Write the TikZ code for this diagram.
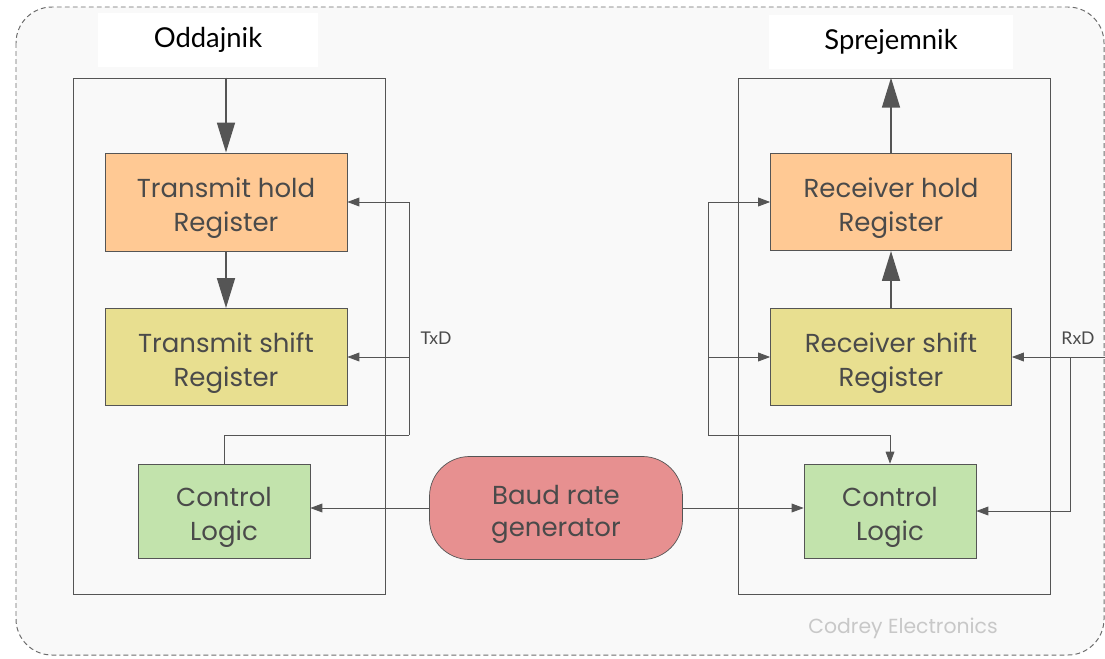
\documentclass[tikz,border=0pt]{standalone}
\usepackage{fontspec}
\setmainfont{Poppins}
\newfontfamily\titlefont{Lato}
\usetikzlibrary{arrows.meta}
\definecolor{bgc}{HTML}{F9F9F9}
\definecolor{linec}{HTML}{555555}
\definecolor{holdc}{HTML}{FFC994}
\definecolor{shiftc}{HTML}{E8DF90}
\definecolor{ctlc}{HTML}{C2E3AC}
\definecolor{baudc}{HTML}{E79090}
\definecolor{textc}{HTML}{4A4A4A}
\definecolor{brandc}{HTML}{C8C8C8}
\def\two#1#2{\raisebox{-1.6mm}[\height][\depth]{\shortstack{#1\\[2.5mm]#2}}}
\begin{document}
\begin{tikzpicture}[x=0.25mm,y=-0.25mm,
  block/.style={draw=linec,line width=0.5pt,text=textc,align=center,
    font=\fontsize{18.5}{24}\selectfont,inner sep=0pt},
  frame/.style={draw=linec,line width=0.6pt,inner sep=0pt},
  conn/.style={draw=linec,line width=0.6pt},
  thin arrow/.style={conn,-{Triangle[length=3mm,width=2.2mm]}},
  thick arrow/.style={draw=linec,line width=2pt,-{Triangle[length=7.5mm,width=4.4mm]}},
  title/.style={fill=white,font=\titlefont\fontsize{19.5}{22}\selectfont,inner sep=0pt},
  lbl/.style={text=textc,font=\titlefont\fontsize{12.5}{14}\selectfont,inner sep=0pt}]
\useasboundingbox (0,0) rectangle (1105,658);
\draw[fill=bgc,draw=gray!85!black,dash pattern=on 1.2mm off 0.8mm,line width=0.7pt,rounded corners=9mm] (16,7) rectangle (1104,655);
% titles
\node[title,minimum width=220*0.25mm,minimum height=54*0.25mm] (ttx) at (208,40) {Oddajnik};
\node[title,minimum width=244*0.25mm,minimum height=54*0.25mm] (trx) at (891,42) {Sprejemnik};
% frames
\node[frame,minimum width=312*0.25mm,minimum height=516*0.25mm] (lbox) at (229,336) {};
\node[frame,minimum width=312*0.25mm,minimum height=516*0.25mm] (rbox) at (894,336) {};
% transmitter
\node[block,fill=holdc,minimum width=242*0.25mm,minimum height=98*0.25mm] (txhold) at (226,202) {\two{Transmit hold}{Register}};
\node[block,fill=shiftc,minimum width=242*0.25mm,minimum height=97*0.25mm] (txshift) at (226,357) {\two{Transmit shift}{Register}};
\node[block,fill=ctlc,minimum width=172*0.25mm,minimum height=94*0.25mm] (txctl) at (224,511) {\two{Control}{Logic}};
% receiver
\node[block,fill=holdc,minimum width=241*0.25mm,minimum height=97*0.25mm] (rxhold) at (891,202) {\two{Receiver hold}{Register}};
\node[block,fill=shiftc,minimum width=241*0.25mm,minimum height=97*0.25mm] (rxshift) at (891,357) {\two{Receiver shift}{Register}};
\node[block,fill=ctlc,minimum width=172*0.25mm,minimum height=94*0.25mm] (rxctl) at (890,511) {\two{Control}{Logic}};
% baud
\node[block,fill=baudc,rounded corners=10mm,minimum width=253*0.25mm,minimum height=103*0.25mm] (baud) at (556,508) {\two{Baud rate}{generator}};
% data path
\draw[thick arrow] (lbox.north -| txhold) -- (txhold.north);
\draw[thick arrow] (txhold.south) -- (txshift.north);
\draw[thick arrow] (rxshift.north) -- (rxhold.south);
\draw[thick arrow] (rxhold.north) -- (rbox.north -| rxhold);
% TxD
\coordinate (txbus) at (409,435);
\draw[conn] (txctl.north) |- (txbus);
\draw[thin arrow] (txbus) |- (txhold.east);
\draw[thin arrow] (txbus |- txshift.east) -- (txshift.east);
\node[lbl] (txd) at (436,338) {TxD};
% receiver feedback
\coordinate (rxbus) at (708,435);
\draw[thin arrow] (rxbus) |- (rxhold.west);
\draw[thin arrow] (rxbus |- rxshift.west) -- (rxshift.west);
\draw[thin arrow] (rxbus) -| (rxctl.north);
% RxD
\coordinate (rxin) at (1105,357);
\coordinate (rxsplit) at (1070,357);
\draw[thin arrow] (rxin) -- (rxshift.east);
\draw[thin arrow] (rxsplit) |- (rxctl.east);
\node[lbl] (rxd) at (1078,338) {RxD};
% clock
\draw[thin arrow] (baud.west) -- (baud.west -| txctl.east);
\draw[thin arrow] (baud.east) -- (baud.east -| rxctl.west);
\node[text=brandc,font=\fontsize{14.5}{16}\selectfont] (brand) at (903,628) {Codrey Electronics};
\end{tikzpicture}
\end{document}
